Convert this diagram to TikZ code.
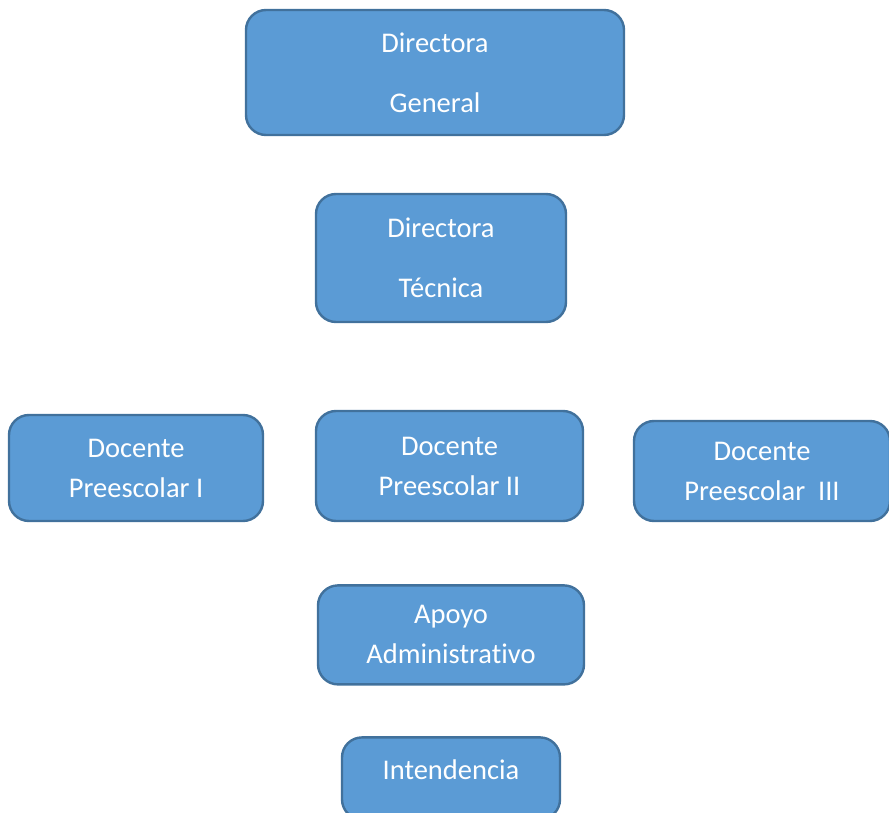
\documentclass[tikz,border=0pt]{standalone}
\usepackage{fontspec}
\setmainfont{Carlito}[Ligatures=NoCommon]
\usepackage{xcolor}
\usepackage{tikz}
\usetikzlibrary{calc}
\usetikzlibrary{positioning}

\definecolor{boxfill}{HTML}{5B9BD5}
\definecolor{boxline}{HTML}{41719C}

\begin{document}
\begin{tikzpicture}[x=1pt, y=1pt]

        \def\d{50.6pt}

        % Look of every box of the chart
        \tikzset{puesto/.style={draw=boxline, line width=2.4pt,
                fill=boxfill, rounded corners=20pt, text=white,
                align=center, inner sep=0pt,
                font=\fontsize{28.5}{40}\selectfont}}

        \useasboundingbox (0, 0) rectangle (889, -813);

        % Boxes, placed one below the other
        \begin{scope}[shift={(0, 0)}, rotate=0]

            \node (D1) [puesto, minimum width=378pt, minimum height=125pt]
            at (435, -72.5) {Directora\\[20pt]General};
            \node (T1) [puesto, minimum width=250pt, minimum height=128pt,
            below=56.6pt of D1, xshift=6pt] {Directora\\[20pt]Técnica};
            \node (P2) [puesto, minimum width=267pt, minimum height=110pt,
            below=86.6pt of T1, xshift=8.5pt] {Docente\\Preescolar II};
            \node (P1) [puesto, minimum width=254pt, minimum height=106pt,
            left=\d of P2, yshift=-2pt] {Docente\\Preescolar I};
            \node (P3) [puesto, minimum width=256pt, minimum height=100pt,
            right=48.6pt of P2, yshift=-5pt] {Docente\\Preescolar~~III};
            \node (A1) [puesto, minimum width=266pt, minimum height=99pt,
            below=62pt of P2, xshift=1.5pt] {Apoyo\\Administrativo};
            \node (I1) [puesto, minimum width=218pt, minimum height=82pt,
            text depth=18pt, below=\d of A1] {Intendencia};
        \end{scope}

\end{tikzpicture}
\end{document}
